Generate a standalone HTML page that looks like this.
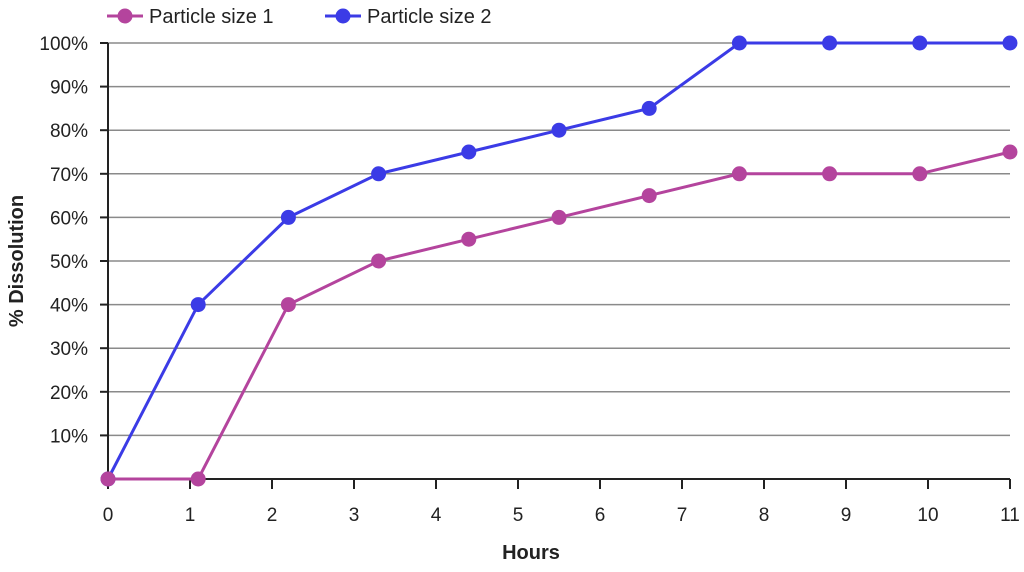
<!DOCTYPE html>
<html><head><meta charset="utf-8"><style>
body{margin:0;background:#fff;font-family:"Liberation Sans",sans-serif}
svg text{font-family:"Liberation Sans",sans-serif;fill:#222}
</style></head><body>
<svg id="chart" width="1024" height="567" viewBox="0 0 1024 567"></svg>
<script>
const hours=[0,1.1,2.2,3.3,4.4,5.5,6.6,7.7,8.8,9.9,11];
const size1=[0,0,40,50,55,60,65,70,70,70,75];
const size2=[0,40,60,70,75,80,85,100,100,100,100];
const xTicks=[0,1,2,3,4,5,6,7,8,9,10,11];
const yTicks=[10,20,30,40,50,60,70,80,90,100];
const X0=108,X1=1010,Y0=479,Y1=43;
const xs=v=>X0+(X1-X0)*v/11;
const ys=v=>Y0-(Y0-Y1)*v/100;
const svg=document.getElementById('chart');
const NS='http://www.w3.org/2000/svg';
function mk(t,a,p){const e=document.createElementNS(NS,t);for(const k in a)e.setAttribute(k,a[k]);(p||svg).appendChild(e);return e;}
yTicks.forEach(v=>{
  const g=mk('line',{x1:X0-8,x2:X1,y1:ys(v),y2:ys(v),stroke:'#8a8a8a','stroke-width':1.5});
  
  
  mk('line',{x1:X0-8,x2:X0,y1:ys(v),y2:ys(v),stroke:'#222','stroke-width':2});
  const t=mk('text',{x:X0-20,y:ys(v)+7,'text-anchor':'end','font-size':19});
  t.textContent=v+'%';
  
  
});
xTicks.forEach(v=>{
  mk('line',{x1:xs(v),x2:xs(v),y1:Y0,y2:Y0+10,stroke:'#222','stroke-width':2});
  const t=mk('text',{x:xs(v),y:Y0+42,'text-anchor':'middle','font-size':19});
  t.textContent=v;
  
  
});
const ya=mk('line',{x1:X0,x2:X0,y1:Y1,y2:Y0,stroke:'#222','stroke-width':2});


const xa=mk('line',{x1:X0,x2:X1,y1:Y0,y2:Y0,stroke:'#222','stroke-width':2});


function series(vals,color,name){
  const pts=hours.map((h,i)=>xs(h)+','+ys(vals[i])).join(' ');
  const l=mk('polyline',{points:pts,fill:'none',stroke:color,'stroke-width':3});
  
  
  hours.forEach((h,i)=>{
    const c=mk('circle',{cx:xs(h),cy:ys(vals[i]),r:7.5,fill:color});
    
    
  });
}
series(size2,'#3b3be6','particle-size-2');
series(size1,'#b4449d','particle-size-1');
const xt=mk('text',{x:531,y:559,'text-anchor':'middle','font-size':20,'font-weight':'bold'});
xt.textContent='Hours';


const yt=mk('text',{x:0,y:0,'text-anchor':'middle','font-size':20,'font-weight':'bold',transform:'translate(23,261) rotate(-90)'});
yt.textContent='% Dissolution';


[['Particle size 1','#b4449d',107],['Particle size 2','#3b3be6',325]].forEach(([lab,col,x],i)=>{
  const g=mk('g',{});
  
  
  mk('line',{x1:x,x2:x+36,y1:16,y2:16,stroke:col,'stroke-width':3},g);
  mk('circle',{cx:x+18,cy:16,r:7.5,fill:col},g);
  const t=mk('text',{x:x+42,y:23,'font-size':20},g);
  t.textContent=lab;
});
</script>
</body></html>
